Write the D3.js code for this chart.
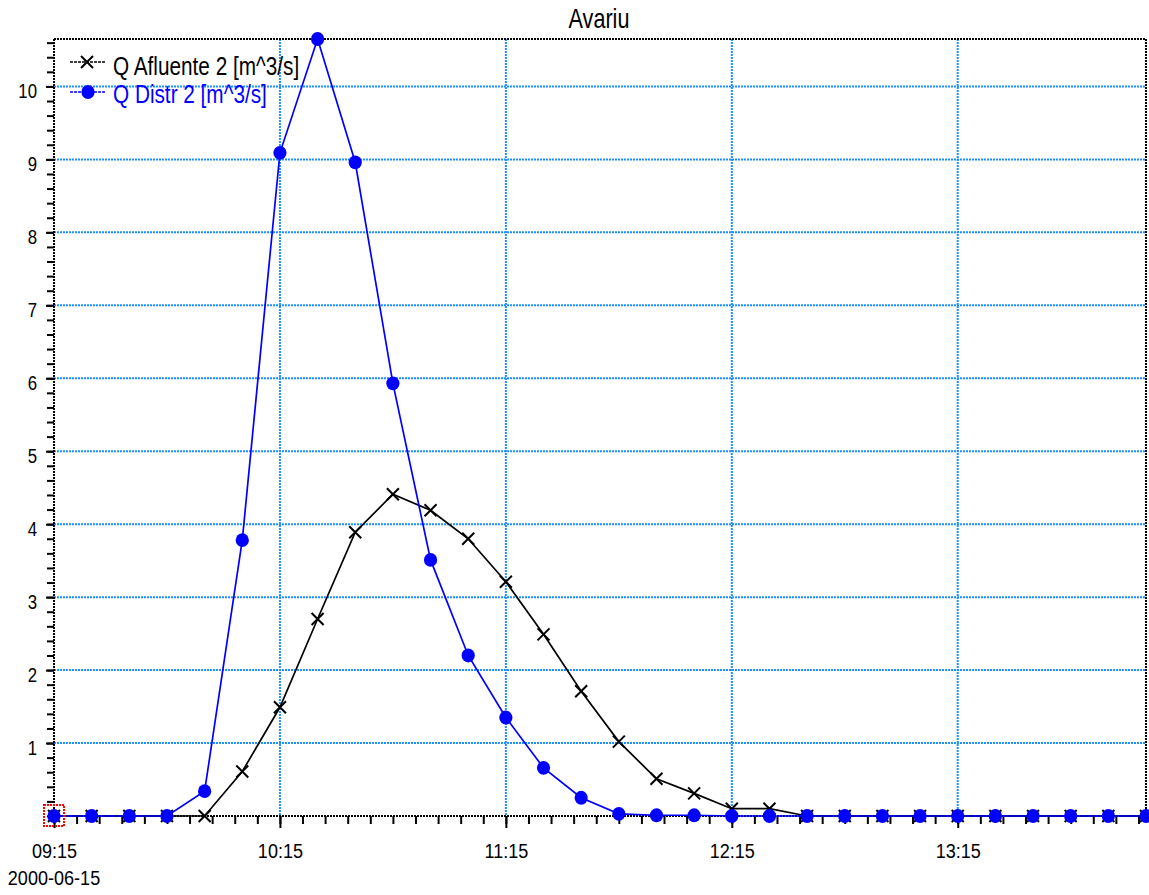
<!DOCTYPE html>
<html>
<head>
<meta charset="utf-8">
<script src="https://cdn.jsdelivr.net/npm/d3@7"></script>
<style>
  html, body { margin: 0; padding: 0; background: #fff; }
  svg { display: block; font-family: "Liberation Sans", Arial, sans-serif; }
</style>
</head>
<body>
<svg id="chart" width="1149" height="895"></svg>
<script>
// ---- data ----
const chartTitle = "Avariu";
const dateLabel = "2000-06-15";
const times = ["09:15","09:25","09:35","09:45","09:55","10:05","10:15","10:25","10:35","10:45",
               "10:55","11:05","11:15","11:25","11:35","11:45","11:55","12:05","12:15","12:25",
               "12:35","12:45","12:55","13:05","13:15","13:25","13:35","13:45","13:55","14:05"];
const qAfluente = [0,0,0,0,0,0.61,1.49,2.70,3.89,4.41,
                   4.19,3.80,3.21,2.49,1.71,1.02,0.51,0.31,0.10,0.10,
                   0,0,0,0,0,0,0,0,0,0];
const qDistr = [0,0,0,0,0.34,3.78,9.09,10.65,8.96,5.93,
                3.51,2.20,1.35,0.66,0.25,0.03,0.01,0.01,0,0,
                0,0,0,0,0,0,0,0,0,0];
const seriesNames = ["Q Afluente 2 [m^3/s]", "Q Distr 2 [m^3/s]"];
const xTickLabels = ["09:15","10:15","11:15","12:15","13:15"];
const yTickValues = [1,2,3,4,5,6,7,8,9,10];

// ---- helpers ----
const parseT = s => new Date(Date.UTC(2000, 5, 15, +s.slice(0,2), +s.slice(3,5)));
const dates = times.map(parseT);

const L = 54, R = 1146, T = 39, B = 816;
const svg = d3.select("#chart");

const x = d3.scaleUtc().domain([dates[0], dates[dates.length-1]]).range([L, R]);
const y = d3.scaleLinear().domain([0, d3.max(qDistr)]).range([B, T]);

const gridColor = "#1e90ff";
const blue = "#0000ff";

// ---- grid ----
const grid = svg.append("g");
grid.selectAll("line.h").data(yTickValues).join("line")
  .attr("x1", L).attr("x2", R)
  .attr("y1", d => y(d)).attr("y2", d => y(d))
  .attr("stroke", gridColor).attr("stroke-width", 2).attr("stroke-dasharray", "2,1");
grid.selectAll("line.v").data(xTickLabels.slice(1).map(parseT)).join("line")
  .attr("x1", d => x(d)).attr("x2", d => x(d))
  .attr("y1", T).attr("y2", B)
  .attr("stroke", gridColor).attr("stroke-width", 2).attr("stroke-dasharray", "2,1");

// ---- border (top/right) ----
svg.append("path")
  .attr("d", `M${L},${T}H${R}V${B}`)
  .attr("fill", "none").attr("stroke", "#000").attr("stroke-width", 2).attr("stroke-dasharray", "2,1");

// ---- x axis ----
const minorX = d3.range(0, 291, 6).map(m => new Date(dates[0].getTime() + m * 60000));
const xAxisMinor = d3.axisBottom(x).tickValues(minorX).tickSize(8).tickFormat("");
const gxm = svg.append("g").attr("transform", `translate(0,${B})`).call(xAxisMinor);
gxm.select(".domain").remove();
gxm.selectAll(".tick line").attr("stroke", "#000").attr("stroke-width", 2);

const xAxis = d3.axisBottom(x).tickValues(xTickLabels.map(parseT)).tickSize(12)
  .tickFormat(d3.utcFormat("%H:%M")).tickPadding(0);
const gx = svg.append("g").attr("transform", `translate(0,${B})`).call(xAxis);
gx.select(".domain").remove();
gx.selectAll(".tick line").attr("stroke", "#000").attr("stroke-width", 2);
gx.selectAll(".tick text")
  .attr("y", 0).attr("dy", 0)
  .attr("font-size", 21).attr("fill", "#000")
  .attr("font-family", "Liberation Sans, Arial, sans-serif")
  .attr("transform", "translate(0,42) scale(0.86,1)");

svg.append("text")
  .attr("font-size", 21).attr("text-anchor", "middle")
  .attr("transform", `translate(${x(dates[0])},885) scale(0.86,1)`)
  .text(dateLabel);

// ---- y axis ----
const minorY = d3.range(0, 54).map(i => i * 0.2).filter(v => v <= d3.max(qDistr));
const yAxisMinor = d3.axisLeft(y).tickValues(minorY).tickSize(7).tickFormat("");
const gym = svg.append("g").attr("transform", `translate(${L},0)`).call(yAxisMinor);
gym.select(".domain").remove();
gym.selectAll(".tick line").attr("stroke", "#000").attr("stroke-width", 2);

const yAxis = d3.axisLeft(y).tickValues(yTickValues).tickSize(8).tickFormat(d3.format("d"));
const gy = svg.append("g").attr("transform", `translate(${L},0)`).call(yAxis);
gy.select(".domain").remove();
gy.selectAll(".tick line").attr("stroke", "#000").attr("stroke-width", 2);
gy.selectAll(".tick text")
  .attr("x", 0).attr("dy", 0)
  .attr("font-size", 21).attr("fill", "#000")
  .attr("font-family", "Liberation Sans, Arial, sans-serif")
  .attr("text-anchor", "end")
  .attr("transform", "translate(-17,11) scale(0.8,1)");

// axis lines (dotted)
svg.append("path")
  .attr("d", `M${L},${T}V${B}H${R}`)
  .attr("fill", "none").attr("stroke", "#000").attr("stroke-width", 2).attr("stroke-dasharray", "2,1");

// ---- series ----
const line = d3.line().x((d, i) => x(dates[i])).y(d => y(d));

function drawX(g, cx, cy, s, color) {
  g.append("path")
    .attr("d", `M${cx-s},${cy-s}L${cx+s},${cy+s}M${cx-s},${cy+s}L${cx+s},${cy-s}`)
    .attr("stroke", color).attr("stroke-width", 2).attr("fill", "none");
}

// black series
svg.append("path").datum(qAfluente)
  .attr("d", line).attr("fill", "none").attr("stroke", "#000").attr("stroke-width", 1.7);
const gA = svg.append("g");
qAfluente.forEach((v, i) => drawX(gA, x(dates[i]), y(v), 6, "#000"));

// blue series
svg.append("path").datum(qDistr)
  .attr("d", line).attr("fill", "none").attr("stroke", blue).attr("stroke-width", 1.7);
svg.append("g").selectAll("ellipse").data(qDistr).join("ellipse")
  .attr("cx", (d, i) => x(dates[i])).attr("cy", d => y(d))
  .attr("rx", 6.6).attr("ry", 6.9).attr("fill", blue);

// selection box
svg.append("rect")
  .attr("x", x(dates[0]) - 10).attr("y", y(0) - 11)
  .attr("width", 20).attr("height", 21)
  .attr("fill", "none").attr("stroke", "#ff0000").attr("stroke-width", 2).attr("stroke-dasharray", "2,1");

// ---- legend ----
const lg = svg.append("g");
lg.append("line").attr("x1", 70).attr("x2", 105).attr("y1", 62).attr("y2", 62)
  .attr("stroke", "#000").attr("stroke-width", 1.7).attr("stroke-dasharray", "3,1");
drawX(lg, 87, 62, 6, "#000");
lg.append("text").attr("font-size", 25).attr("fill", "#000")
  .attr("transform", "translate(113,75) scale(0.83,1)").text(seriesNames[0]);

lg.append("line").attr("x1", 70).attr("x2", 105).attr("y1", 92).attr("y2", 92)
  .attr("stroke", blue).attr("stroke-width", 1.7).attr("stroke-dasharray", "3,1");
lg.append("ellipse").attr("cx", 88).attr("cy", 92).attr("rx", 6.6).attr("ry", 6.9).attr("fill", blue);
lg.append("text").attr("font-size", 25).attr("fill", blue)
  .attr("transform", "translate(113,103) scale(0.83,1)").text(seriesNames[1]);

// ---- title ----
svg.append("text").attr("font-size", 27).attr("text-anchor", "middle")
  .attr("transform", "translate(599,28) scale(0.8,1)").text(chartTitle);
</script>
</body>
</html>
